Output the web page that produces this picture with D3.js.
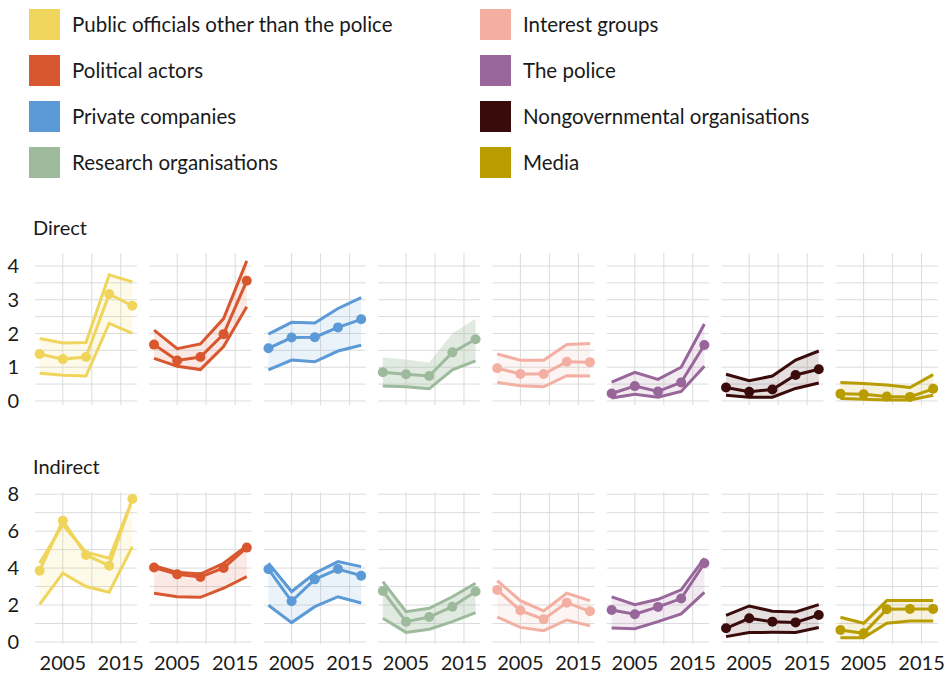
<!DOCTYPE html>
<html>
<head>
<meta charset="utf-8">
<script src="https://cdn.jsdelivr.net/npm/d3@7"></script>
<style>
  body { margin: 0; background: #fff; }
  text { font-family: Lato, "Noto Sans", sans-serif; fill: #1a1a1a; }
</style>
</head>
<body>
<div id="container"></div>
<script>
// categories and colours
var categories = ["Public officials other than the police", "Political actors", "Private companies",
  "Research organisations", "Interest groups", "The police", "Nongovernmental organisations", "Media"];
var colors = ["#F0D55C", "#D9572F", "#5B9AD6", "#9DBA9C", "#F3B0A2", "#98669A", "#3A0B0B", "#B89C00"];

var years = [2001, 2005, 2009, 2013, 2017];
var xTicks = [2005, 2015];

// Direct: mean, lower, upper per category
var directMean = [
  [1.39, 1.24, 1.30, 3.17, 2.82],
  [1.67, 1.20, 1.30, 1.98, 3.56],
  [1.56, 1.88, 1.89, 2.18, 2.42],
  [0.85, 0.79, 0.74, 1.44, 1.83],
  [0.97, 0.80, 0.80, 1.16, 1.15],
  [0.22, 0.44, 0.28, 0.55, 1.66],
  [0.40, 0.27, 0.34, 0.77, 0.94],
  [0.21, 0.20, 0.13, 0.12, 0.36]
];
var directLower = [
  [0.82, 0.76, 0.74, 2.30, 2.00],
  [1.26, 1.03, 0.93, 1.61, 2.79],
  [0.92, 1.21, 1.16, 1.48, 1.65],
  [0.44, 0.42, 0.36, 0.92, 1.19],
  [0.55, 0.45, 0.42, 0.75, 0.74],
  [0.09, 0.20, 0.11, 0.28, 1.03],
  [0.17, 0.11, 0.11, 0.37, 0.53],
  [0.07, 0.05, 0.03, 0.03, 0.17]
];
var directUpper = [
  [1.85, 1.72, 1.73, 3.74, 3.53],
  [2.10, 1.55, 1.69, 2.44, 4.15],
  [1.98, 2.33, 2.31, 2.74, 3.06],
  [1.29, 1.23, 1.14, 2.00, 2.44],
  [1.39, 1.21, 1.21, 1.67, 1.70],
  [0.56, 0.85, 0.64, 1.00, 2.28],
  [0.79, 0.60, 0.74, 1.21, 1.48],
  [0.55, 0.52, 0.47, 0.40, 0.78]
];

// Indirect: mean, lower, upper per category
var indirectMean = [
  [3.86, 6.57, 4.71, 4.13, 7.74],
  [4.03, 3.66, 3.52, 4.01, 5.11],
  [3.94, 2.20, 3.39, 3.95, 3.59],
  [2.76, 1.10, 1.35, 1.91, 2.73],
  [2.82, 1.70, 1.23, 2.13, 1.66],
  [1.73, 1.50, 1.90, 2.35, 4.26],
  [0.74, 1.28, 1.10, 1.06, 1.46],
  [0.65, 0.47, 1.77, 1.79, 1.79]
];
var indirectLower = [
  [2.04, 3.72, 3.00, 2.69, 5.16],
  [2.64, 2.45, 2.42, 2.91, 3.54],
  [1.99, 1.05, 1.91, 2.45, 2.11],
  [1.28, 0.52, 0.69, 1.10, 1.59],
  [1.35, 0.79, 0.61, 1.19, 0.87],
  [0.76, 0.72, 1.10, 1.52, 2.69],
  [0.29, 0.51, 0.52, 0.51, 0.78],
  [0.23, 0.23, 1.01, 1.14, 1.14]
];
var indirectUpper = [
  [4.26, 6.35, 4.86, 4.53, 7.70],
  [4.13, 3.77, 3.68, 4.26, 5.20],
  [4.26, 2.73, 3.72, 4.35, 4.08],
  [3.27, 1.64, 1.82, 2.45, 3.18],
  [3.32, 2.24, 1.68, 2.64, 2.24],
  [2.44, 2.02, 2.31, 2.82, 4.53],
  [1.44, 1.95, 1.66, 1.62, 2.02],
  [1.34, 1.01, 2.24, 2.24, 2.24]
];

var rows = [
  {title: "Direct", mean: directMean, lower: directLower, upper: directUpper,
   yDomain: [-0.12, 4.385], yTicks: [0, 1, 2, 3, 4], yGrid: d3.range(0, 4.01, 0.5), top: 253},
  {title: "Indirect", mean: indirectMean, lower: indirectLower, upper: indirectUpper,
   yDomain: [-0.11, 8.12], yTicks: [0, 2, 4, 6, 8], yGrid: d3.range(0, 8.01, 1), top: 492}
];

var width = 951, height = 675;
var panelW = 102, panelH = 152, panelStep = 114.4, left = 35;

var svg = d3.select("#container")
  .append("svg")
    .attr("width", width)
    .attr("height", height);

// legend
var legend = svg.append("g");
categories.forEach(function(c, i) {
  var col = Math.floor(i / 4), row = i % 4;
  var g = legend.append("g")
    .attr("transform", "translate(" + (29 + col * 451) + "," + (9 + row * 46) + ")");
  g.append("rect").attr("width", 31).attr("height", 31).attr("fill", colors[i]);
  g.append("text").attr("x", 43).attr("y", 16).attr("dy", "0.35em")
    .style("font-size", "20.5px").text(c);
});

var x = d3.scaleLinear().domain([2000.2, 2017.8]).range([0, panelW]);

rows.forEach(function(r) {
  var y = d3.scaleLinear().domain(r.yDomain).range([panelH, 0]);

  svg.append("text")
    .attr("x", 33).attr("y", r.top - 18)
    .style("font-size", "20px")
    .text(r.title);

  // y axis labels
  svg.append("g")
    .attr("transform", "translate(0," + r.top + ")")
    .selectAll("text")
    .data(r.yTicks)
    .enter()
    .append("text")
      .attr("x", 19)
      .attr("y", function(d) { return y(d); })
      .attr("dy", "0.36em")
      .attr("text-anchor", "end")
      .style("font-size", "20px")
      .text(function(d) { return d; });

  categories.forEach(function(c, i) {
    var g = svg.append("g")
      .attr("transform", "translate(" + (left + i * panelStep) + "," + r.top + ")");

    // grid
    g.selectAll(".hg").data(r.yGrid).enter().append("line")
      .attr("x1", 0).attr("x2", panelW)
      .attr("y1", function(d) { return y(d); }).attr("y2", function(d) { return y(d); })
      .attr("stroke", "#dcdcdc").attr("stroke-width", 1);
    g.selectAll(".vg").data([2005, 2010, 2015]).enter().append("line")
      .attr("y1", 0).attr("y2", panelH)
      .attr("x1", function(d) { return x(d); }).attr("x2", function(d) { return x(d); })
      .attr("stroke", "#dcdcdc").attr("stroke-width", 1);

    var pts = years.map(function(yr, k) {
      return {year: yr, mean: r.mean[i][k], lo: r.lower[i][k], hi: r.upper[i][k]};
    });

    // band
    var isGreen = (i === 3);
    g.append("path")
      .datum(pts)
      .attr("fill", colors[i])
      .attr("fill-opacity", isGreen ? 0.3 : 0.13)
      .attr("d", d3.area()
        .x(function(d) { return x(d.year); })
        .y0(function(d) { return y(d.lo); })
        .y1(function(d) { return y(d.hi); }));

    var line = d3.line().x(function(d) { return x(d.year); });
    var keys = isGreen && r.title === "Direct" ? ["lo", "mean"] : ["lo", "hi", "mean"];
    keys.forEach(function(k) {
      g.append("path")
        .datum(pts)
        .attr("fill", "none")
        .attr("stroke", colors[i])
        .attr("stroke-width", 3)
        .attr("d", line.y(function(d) { return y(d[k]); }));
    });

    g.selectAll("circle").data(pts).enter().append("circle")
      .attr("cx", function(d) { return x(d.year); })
      .attr("cy", function(d) { return y(d.mean); })
      .attr("r", 5)
      .attr("fill", colors[i]);

    // x tick labels for bottom row
    if (r.title === "Indirect") {
      g.selectAll(".xt").data(xTicks).enter().append("text")
        .attr("x", function(d) { return x(d); })
        .attr("y", panelH + 26)
        .attr("text-anchor", "middle")
        .style("font-size", "20px")
        .text(function(d) { return d; });
    }
  });
});
</script>
</body>
</html>
